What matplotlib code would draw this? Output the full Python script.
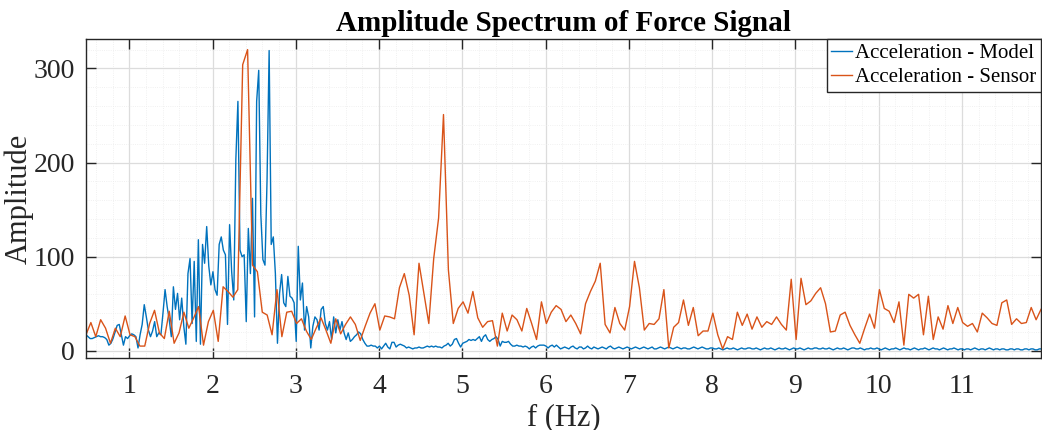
import matplotlib.pyplot as plt
import numpy as np
from matplotlib.ticker import MultipleLocator

# Times 风格字体
plt.rcParams['font.family'] = ['Liberation Serif', 'DejaVu Serif']

# 频率网格 (Hz)
f_start = 0.48
df_model = 0.025
df_sensor = 1 / 17

# 模型加速度的幅值谱
amp_model = [
    17, 15, 13, 13, 14, 15, 16, 15, 15, 14, 12, 6, 8, 13, 20, 27, 28, 17, 6, 15,
    13, 16, 18, 17, 15, 3, 17, 28, 49, 36, 22, 15, 21, 31, 15, 19, 17, 40, 65, 47,
    33, 15, 68, 44,
    61, 33, 56, 26, 7, 82, 98, 29, 95, 10, 118, 7, 113, 93, 132, 90, 70, 84, 65, 59,
    113, 121, 107, 102, 28, 134, 84, 54, 203, 265,
    107, 100, 102, 31, 130, 82, 162, 36, 265, 298,
    145, 97, 91, 182, 319, 113, 121, 82, 8, 61, 81, 51, 47, 79, 58, 56, 51, 10, 111, 54,
    72, 22, 47, 36, 3, 26, 36, 33, 22, 44, 47, 29, 22, 31, 12, 36, 19, 33, 22, 31,
    19, 12, 19,
    10, 12, 15, 17, 20, 18, 12, 8, 5, 5, 6, 5, 5, 3, 5, 2, 5, 8, 4, 2,
    9, 9, 4, 6, 7, 6, 5, 3, 4, 3, 2, 3, 3, 4, 3, 3, 4, 5, 4, 5,
    4, 5, 4, 4, 3, 5, 6, 8, 5, 7, 12, 13, 8, 4, 8, 9, 10, 12, 11, 12,
    11, 13, 15, 10, 15, 17, 12, 10, 12, 13, 15, 12, 5, 10, 9, 9, 10, 7, 5, 5,
    6, 5, 5, 4, 5, 4, 2, 4, 5, 3, 5, 6, 6, 6, 5, 3, 5, 6,
    # 6.1 Hz 以后
    4, 6, 4, 2, 3, 4, 3, 2, 4, 5, 3, 2, 4, 4, 2, 3, 5, 3, 2, 4,
    3, 2, 3, 4, 3, 2, 4, 5, 3, 2, 3, 4, 3, 2, 3, 4,
    3, 2, 3, 4, 3, 2, 3, 4, 3, 2, 3, 4, 2, 2, 3, 4, 3, 2, 3, 4,
    3, 2, 3, 4, 3, 2, 3, 3, 2, 2, 3, 4, 3, 2, 3, 4, 3, 2, 2, 3,
    3, 2, 2, 3, 2, 1, 2, 3, 2, 2, 3, 2, 1, 2, 3, 2, 2, 3, 3, 2,
    2, 3, 2, 1, 2, 3, 2, 2, 3, 2, 1, 2, 3, 2, 2, 3, 2, 1, 2, 3,
    2, 2, 3, 2, 1, 2, 3, 2, 2, 3, 3, 2, 2, 3, 2, 2, 3, 2, 1, 2,
    3, 2, 2, 3, 2, 1, 2, 3, 3, 2, 2, 3, 2, 1, 2, 2, 3, 2, 2, 3,
    2, 1, 2, 3, 2, 1, 2, 2, 3, 2, 1, 2, 3, 2, 2, 1, 2, 3, 2, 1,
    2, 2, 3, 2, 1, 2, 3, 2, 2, 1, 2, 3, 2, 1, 2, 2, 3, 2, 1, 2,
    2, 1, 2, 2, 1, 2, 3, 2, 1, 2, 2, 1, 2, 3, 2, 1, 2, 2, 1, 2,
    2, 1, 1, 2, 2, 1, 2, 2, 1, 1, 2, 2, 1, 2, 2, 1, 1, 2, 2,
]

# 传感器加速度的幅值谱
amp_sensor = [
    17, 30, 15, 33, 24, 8, 24, 15, 37, 17, 15, 5, 5, 29, 43, 19, 13,
    42, 8, 19, 41, 24, 35, 47, 6, 31, 43, 10, 68, 63, 57, 65, 304, 320,
    91, 84, 41, 38, 17, 65, 15, 41, 42, 29, 34, 21, 12, 24, 35, 22, 8,
    34, 18, 28, 36, 28, 11, 26, 40, 50, 22, 37, 36, 34, 67, 82, 59, 17,
    93, 61, 29, 98, 141, 251, 86, 29, 45, 52, 40, 63, 35, 25, 31, 32, 5,
    40, 21, 38, 33, 21, 45, 29, 12, 52, 29, 41, 48, 44, 31, 38, 29, 18,
    50, 63, 74, 93, 28, 19, 46, 29, 22, 47, 95, 67, 22, 29, 28, 34, 65,
    3, 25, 30, 54, 27, 46, 16, 21, 21, 40, 17, 2, 15, 12, 41, 27, 39,
    23, 36, 25, 31, 28, 36, 28, 22, 76, 12, 77, 49, 53, 61, 67, 50, 20,
    21, 38, 41, 27, 17, 8, 24, 39, 24, 65, 45, 42, 30, 52, 6, 60, 56,
    60, 17, 58, 12, 36, 23, 48, 29, 46, 30, 26, 29, 20, 40, 35, 29, 27,
    51, 54, 28, 34, 29, 30, 46, 33, 44,
]

f_model = f_start + df_model * np.arange(len(amp_model))
f_sensor = f_start + df_sensor * np.arange(len(amp_sensor))

x_ticks = list(range(1, 12))
y_ticks = [0, 100, 200, 300]

fig = plt.figure(figsize=(10.42, 4.30), dpi=100)
ax = fig.add_axes([0.0825, 0.1667, 0.9165, 0.742])

ax.plot(f_model, amp_model, color='#0072BD', lw=1.0, label='Acceleration - Model')
ax.plot(f_sensor, amp_sensor, color='#D95319', lw=1.0, label='Acceleration - Sensor')

ax.set_xlim(0.48, 11.95)
ax.set_ylim(-8, 331)
ax.set_xticks(x_ticks)
ax.set_yticks(y_ticks)
ax.xaxis.set_minor_locator(MultipleLocator(0.2))
ax.yaxis.set_minor_locator(MultipleLocator(20))

ax.grid(True, which='major', color='#dcdcdc', lw=0.9)
ax.grid(True, which='minor', color='#ececec', lw=0.6, ls=':')
ax.set_axisbelow(True)

ax.tick_params(which='major', direction='in', length=7, width=1.0,
               top=True, right=True, labelsize=20, colors='#262626')
ax.tick_params(axis='x', which='major', pad=11)
ax.tick_params(axis='y', which='major', pad=8)
ax.tick_params(which='minor', length=0)
for s in ax.spines.values():
    s.set_color('#262626')
    s.set_linewidth(1.0)

ax.set_xlabel('f (Hz)', fontsize=22, color='#262626', labelpad=3)
ax.set_ylabel('Amplitude', fontsize=22, color='#262626', labelpad=0)
ax.set_title('Amplitude Spectrum of Force Signal', fontsize=21,
             fontweight='bold', pad=6)

leg = ax.legend(loc='upper right', bbox_to_anchor=(1.0, 1.0), borderaxespad=0,
                fontsize=15, handlelength=1.0, handletextpad=0.15,
                borderpad=0.22, labelspacing=0.2, fancybox=False,
                framealpha=1, edgecolor='#262626')
leg.get_frame().set_linewidth(1.0)

fig.savefig('out.png', dpi=100)
